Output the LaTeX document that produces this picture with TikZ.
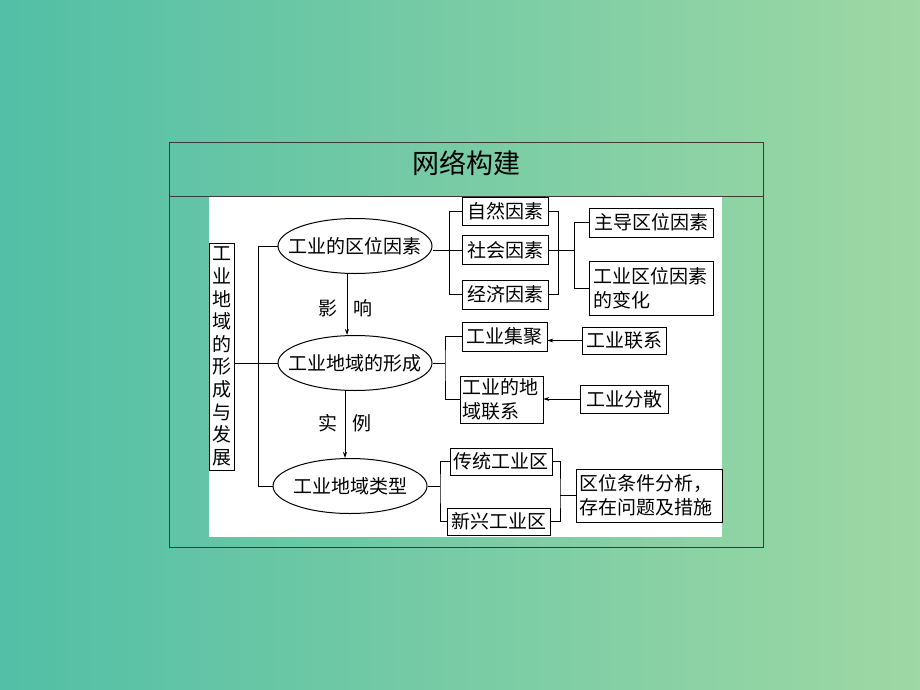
\documentclass[tikz,border=0pt]{standalone}
\usepackage{fontspec}
\newfontfamily\cjk{Noto Sans CJK SC}
\usetikzlibrary{shapes.geometric,arrows.meta}
\definecolor{bgleft}{HTML}{52BFA6}
\definecolor{bgright}{HTML}{9ED8A4}
\definecolor{framegray}{HTML}{3A3A3A}
\tikzset{
  >={Stealth[length=6pt,width=4pt]},
  txt/.style={font=\cjk\fontsize{19pt}{24pt}\selectfont, inner sep=0pt},
  box/.style={txt, draw, line width=0.8pt, minimum width=#1},
  oval/.style={txt, ellipse, draw, line width=1pt, minimum width=154pt, minimum height=55pt},
  link/.style={line width=0.8pt},
}
\begin{document}
\begin{tikzpicture}[x=1pt,y=-1pt]
    \shade[left color=bgleft,right color=bgright] (0,0) rectangle (920,690);
    \useasboundingbox (0,0) rectangle (920,690);

    % frame and title
    \draw [framegray,line width=0.9pt] (169,142) rectangle (763,547);
    \draw [framegray,line width=0.9pt] (169,196) -- (763,196);
    \node [font=\cjk\fontsize{27pt}{30pt}\selectfont] (title) at (466,163) {网络构建};
    \fill [white] (209,197) rectangle (722,537);

    % left column
    \node [box=25pt, minimum height=227pt, align=center, font=\cjk\fontsize{19pt}{22.6pt}\selectfont] (lbox) at (221.5,356.5)
        {工\\业\\地\\域\\的\\形\\成\\与\\发\\展};
    \node [oval] (e1) at (355,246) {\makebox[0pt]{工业的区位因素}};
    \node [oval] (e2) at (355,363) {\makebox[0pt]{工业地域的形成}};
    \node [oval] (e3) at (350,486) {\makebox[0pt]{工业地域类型}};
    \coordinate (t1) at (258,246);
    \coordinate (t3) at (258,486);
    \draw [link] (e1.west) -- (t1) -- (t3) -- (e3.west);
    \draw [link] (lbox.east |- e2.west) -- (e2.west);

    \draw [->,link] (e1.south -| 347,0) -- (e2.north -| 347,0);
    \node [txt] (ying) at (328,308) {影};
    \node [txt] (xiang) at (363,308) {响};
    \draw [->,link] (e2.south -| 345,0) -- (e3.north -| 345,0);
    \node [txt] (shi) at (328,423) {实};
    \node [txt] (li) at (362,423) {例};

    % location factors
    \node [box=86pt, minimum height=28pt] (zr) at (505,211) {自然因素};
    \node [box=86pt, minimum height=29pt] (sh) at (505,250) {社会因素};
    \node [box=86pt, minimum height=29pt] (jj) at (505,294.5) {经济因素};
    \node [box=124pt, minimum height=29pt] (zd) at (651,222.5) {主导区位因素};
    \node [box=124pt, minimum height=54pt, align=left, text width=116pt, inner xsep=4pt] (bh) at (651,288) {工业区位因素\\的变化};
    \draw [link] (e1.east |- sh.west) -- (sh.west);
    \draw [link] (zr.west) -- ++(-12,0) |- (jj.west);
    \draw [link] (zr.east) -- ++(10,0) |- (jj.east);
    \draw [link] (sh.east) -- ++(27,0);
    \draw [link] (zd.west) -- ++(-14,0) |- (bh.west);

    % formation
    \node [box=85pt, minimum height=29pt] (jjj) at (504.5,336.5) {工业集聚};
    \node [box=83pt, minimum height=47pt, align=left, text width=79pt, inner xsep=2pt] (dylx) at (501.5,399.5) {工业的地\\域联系};
    \node [box=84pt, minimum height=27pt] (gylx) at (624,340.5) {工业联系};
    \node [box=88pt, minimum height=28pt] (fs) at (624,399) {工业分散};
    \coordinate (m2) at (445,363);
    \draw [link] (e2.east) -- (m2);
    \draw [link] (jjj.west) -| (m2) |- (dylx.west);
    \draw [->,link] (gylx.west) -- (jjj.east |- gylx.west);
    \draw [->,link] (fs.west) -- (dylx.east |- fs.west);

    % types
    \node [box=102pt, minimum height=27pt] (ct) at (501,461.5) {传统工业区};
    \node [box=103pt, minimum height=27pt] (xx) at (498.5,521.5) {新兴工业区};
    \node [box=146pt, minimum height=53pt, align=left, text width=140pt, inner xsep=3pt] (fx) at (649,495.5) {区位条件分析，\\存在问题及措施};
    \coordinate (m3) at (440,486);
    \coordinate (r3) at (560,495.5);
    \draw [link] (e3.east) -- (m3);
    \draw [link] (ct.west) -| (m3) |- (xx.west);
    \draw [link] (ct.east) -| (r3) |- (xx.east);
    \draw [link] (r3) -- (fx.west);
\end{tikzpicture}
\end{document}
